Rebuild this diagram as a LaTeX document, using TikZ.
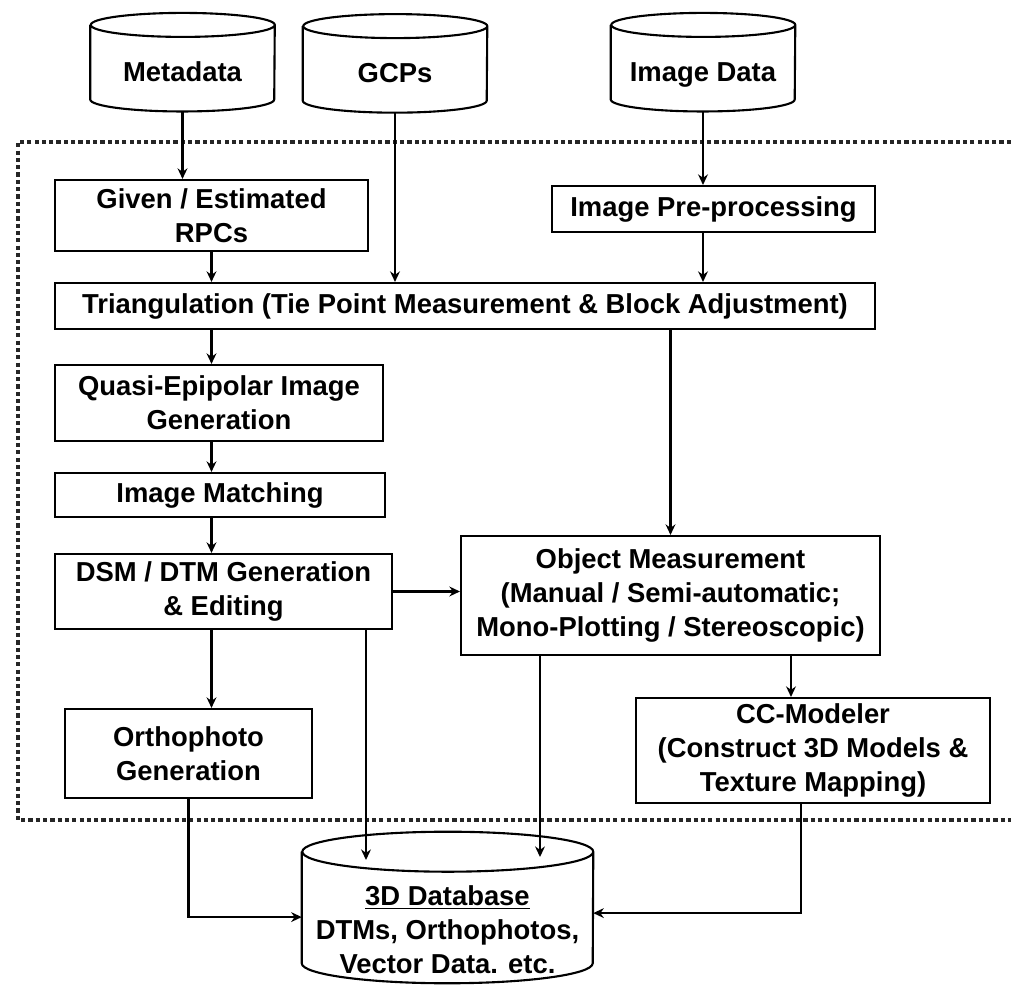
\documentclass[tikz,border=0pt]{standalone}
\usepackage{fontspec}
\setmainfont{Liberation Sans}
\usepackage{tikz}
\usetikzlibrary{arrows.meta,calc,positioning}
\colorlet{framegray}{black!85}

\begin{document}
\begin{tikzpicture}[>={Stealth[length=7.5pt,width=7pt]},
  font=\fontsize{19.5pt}{24pt}\selectfont\bfseries,
  box/.style={draw,line width=1.5pt,align=center,inner sep=0pt},
  store/.style={inner sep=0pt},
  storelab/.style={text height=1.5ex,text depth=0.3ex},
  arr/.style={->,line width=1.5pt}]
\useasboundingbox (0,0) rectangle (25.275,24.675);
% dotted frame, open on the right
\draw[framegray,line width=2.3pt,dash pattern=on 3pt off 2.2pt] (25.275,21.125) -- (0.45,21.125) -- (0.45,4.175) -- (25.275,4.175);

% data stores
\node[store,minimum width=4.6cm,minimum height=2.45cm,label={[storelab,name=metalab,yshift=-0.37cm]center:Metadata}] (meta) at (4.5625,23.12) {};
\node[store,minimum width=4.6cm,minimum height=2.45cm,label={[storelab,name=gcplab,yshift=-0.37cm]center:GCPs}] (gcp) at (9.875,23.09) {};
\node[store,minimum width=4.6cm,minimum height=2.45cm,label={[storelab,name=imgdlab,yshift=-0.37cm]center:Image Data}] (imgd) at (17.575,23.12) {};
\node[store,minimum width=7.275cm,minimum height=3.775cm,label={[name=dblab,align=center,yshift=-0.55cm]center:{\underline{3D Database}\\DTMs, Orthophotos,\\Vector Data. etc.}}] (db) at (11.1875,1.9875) {};
\foreach \nm/\rx/\ry in {meta/2.3/0.3,gcp/2.3/0.3,imgd/2.3/0.3,db/3.6375/0.5}{
  \draw[line width=1.5pt] ([yshift=-\ry cm]\nm.north west) -- ([yshift=\ry cm]\nm.south west)
    arc[start angle=180,end angle=360,x radius=\rx,y radius=\ry]
    -- ([yshift=-\ry cm]\nm.north east)
    arc[start angle=0,end angle=360,x radius=\rx,y radius=\ry];
}

% processing steps
\node[box,minimum width=7.825cm,minimum height=1.775cm] (rpc) at (5.2875,19.2875) {Given / Estimated\\RPCs};
\node[box,minimum width=8.075cm,minimum height=1.15cm] (pre) at (17.8375,19.45) {Image Pre-processing};
\node[box,minimum width=20.5cm,minimum height=1.15cm] (tri) at (11.625,17.025) {Triangulation (Tie Point Measurement \& Block Adjustment)};
\node[box,minimum width=8.2cm,minimum height=1.9cm] (quasi) at (5.475,14.6) {Quasi-Epipolar Image\\Generation};
\node[box,minimum width=8.25cm,minimum height=1.1cm] (match) at (5.5,12.3) {Image Matching};
\node[box,minimum width=8.425cm,minimum height=1.875cm] (dsm) at (5.5875,9.8875) {DSM / DTM Generation\\\& Editing};
\node[box,minimum width=10.475cm,minimum height=2.975cm] (obj) at (16.7625,9.7875) {Object Measurement\\(Manual / Semi-automatic;\\Mono-Plotting / Stereoscopic)};
\node[box,minimum width=6.175cm,minimum height=2.225cm] (ortho) at (4.7125,5.8375) {Orthophoto\\Generation};
\node[box,minimum width=8.85cm,minimum height=2.625cm] (cc) at (20.325,5.9125) {CC-Modeler\\(Construct 3D Models \&\\Texture Mapping)};

\coordinate (ccin) at ([xshift=-0.55cm]cc.north);
\coordinate (ccout) at ([xshift=-0.3cm]cc.south);
\coordinate (dbA) at (9.15,3.175);
\coordinate (dbB) at (13.5,3.25);

% connectors
\draw[arr] (meta.south) -- (meta.south |- rpc.north);
\draw[arr] (gcp.south) -- (gcp.south |- tri.north);
\draw[arr] (imgd.south) -- (imgd.south |- pre.north);
\draw[arr] (rpc.south) -- (rpc.south |- tri.north);
\draw[arr] (pre.south -| imgd.south) -- (imgd.south |- tri.north);
\draw[arr] (rpc.south |- tri.south) -- (rpc.south |- quasi.north);
\draw[arr] (rpc.south |- quasi.south) -- (rpc.south |- match.north);
\draw[arr] (rpc.south |- match.south) -- (rpc.south |- dsm.north);
\draw[arr] (rpc.south |- dsm.south) -- (rpc.south |- ortho.north);
\draw[arr] (obj.north |- tri.south) -- (obj.north);
\draw[arr] (dsm.east) -- (dsm.east -| obj.west);
\draw[arr] (ccin |- obj.south) -- (ccin);
\draw[arr] (dsm.south -| dbA) -- (dbA);
\draw[arr] (obj.south -| dbB) -- (dbB);
\draw[arr] (ortho.south) |- ([yshift=-0.24cm]db.west);
\draw[arr] (ccout) |- ([yshift=-0.14cm]db.east);
\end{tikzpicture}
\end{document}
